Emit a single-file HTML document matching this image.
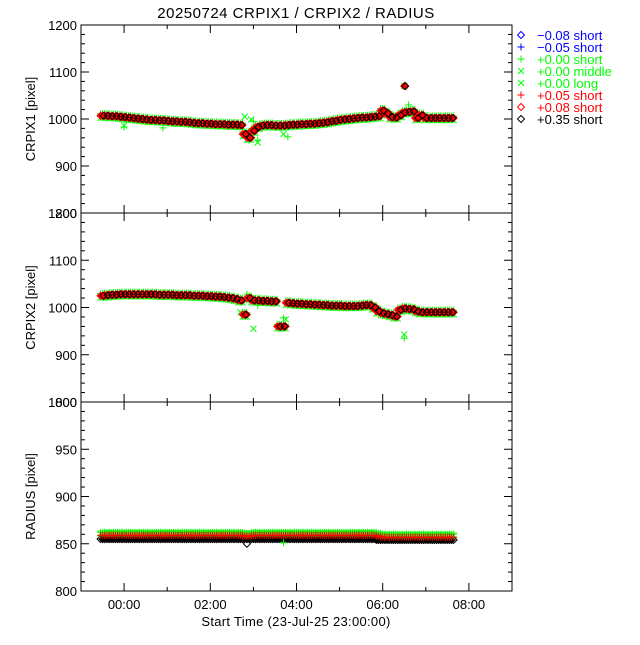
<!DOCTYPE html>
<html><head><meta charset="utf-8"><style>
html,body{margin:0;padding:0;background:#fff;}
text{font-family:"Liberation Sans",sans-serif;}
</style></head><body>
<svg id="chart" width="640" height="640" xmlns="http://www.w3.org/2000/svg">
<rect width="640" height="640" fill="#fff"/>
<text x="296" y="18" font-size="15" text-anchor="middle" letter-spacing="0.5">20250724 CRPIX1 / CRPIX2 / RADIUS</text>
<text x="296" y="626" font-size="13" text-anchor="middle" letter-spacing="0.3">Start Time (23-Jul-25 23:00:00)</text>
<g id="plots"></g>
<g id="legend"></g>
</svg>
<script>
const times=[-0.5,-0.4,-0.3,-0.2,-0.1,0.0,0.1,0.2,0.3,0.4,0.5,0.6,0.7,0.8,0.9,1.0,1.1,1.2,1.3,1.4,1.5,1.6,1.7,1.8,1.9,2.0,2.1,2.2,2.3,2.4,2.5,2.6,2.7,2.8,2.9,3.0,3.1,3.2,3.3,3.4,3.5,3.6,3.7,3.8,3.9,4.0,4.1,4.2,4.3,4.4,4.5,4.6,4.7,4.8,4.9,5.0,5.1,5.2,5.3,5.4,5.5,5.6,5.7,5.8,5.9,6.0,6.1,6.2,6.3,6.4,6.5,6.6,6.7,6.8,6.9,7.0,7.1,7.2,7.3,7.4,7.5,7.6];
const crpix1=[1007,1007,1006,1006,1005,1004,1003,1002,1001,1000,999,998,998,997,997,996,995,995,994,994,993,992,991,991,990,990,989,989,989,988,988,988,987,968,960,975,983,986,987,987,986,986,986,987,988,988,989,989,990,990,991,992,993,995,996,998,999,1000,1001,1002,1003,1003,1004,1005,1006,1018,1012,1004,1003,1008,1014,1015,1016,1002,1008,1002,1002,1002,1002,1002,1002,1002];
const crpix2=[1025,1026,1027,1027,1028,1028,1028,1028,1028,1028,1028,1028,1028,1027,1027,1027,1027,1026,1026,1026,1026,1025,1025,1025,1024,1024,1023,1023,1022,1021,1020,1018,1015,985,1020,1015,1015,1014,1014,1013,1013,960,960,1010,1009,1008,1008,1007,1007,1006,1006,1005,1005,1004,1004,1004,1003,1003,1003,1003,1004,1005,1005,1000,992,988,986,984,981,995,998,997,996,992,990,990,990,990,990,990,990,990];
const radiusBlack=[855,855,855,855,855,855,855,855,855,855,855,855,855,855,855,855,855,855,855,855,855,855,855,855,855,855,855,855,855,855,855,855,855,855,855,855,855,855,855,855,855,855,855,855,855,855,855,855,855,855,855,855,855,855,855,855,855,855,855,855,855,855,855,855,854,854,854,854,854,854,854,854,854,854,854,854,854,854,854,854,854,854];
const radiusRed=[859,859,859,859,859,859,859,859,859,859,859,859,859,859,859,859,859,859,859,859,859,859,859,859,859,859,859,859,859,859,859,859,859,858,858,859,859,859,859,859,859,859,859,859,859,859,859,859,859,859,859,859,859,859,859,859,859,859,859,859,859,859,859,859,858,857,857,857,857,857,857,857,857,857,857,857,857,857,857,857,857,857];
const radiusGreen=[862,862,862,862,862,862,862,862,862,862,862,862,862,862,862,862,862,862,862,862,862,862,862,862,862,862,862,862,862,862,862,862,862,861,861,862,862,862,862,862,862,862,862,862,862,862,862,862,862,862,862,862,862,862,862,862,862,862,862,862,862,862,862,862,861,860,860,860,860,860,860,860,860,860,860,860,860,860,860,860,860,860];
const c1OutT=[0.0,0.0,0.9,2.8,2.9,2.95,3.0,3.1,3.1,3.7,3.8,6.5,6.6,6.6];
const c1OutV=[983,986,981,1005,955,999,995,950,955,968,962,1070,1030,1020];
const c2OutT=[0.9,2.7,2.85,3.0,3.1,3.65,3.7,3.75,6.5,6.5];
const c2OutV=[1030,990,1028,955,1005,958,978,975,935,943];
const rOutT=[2.85,3.7];
const rOutV=[850,851];
const xTickLabels=["00:00","02:00","04:00","06:00","08:00"];
const xTickVals=[0,2,4,6,8];
const p1Ticks=[1200,1100,1000,900,800];
const p2Ticks=[1200,1100,1000,900,800];
const p3Ticks=[1000,950,900,850,800];
const legendLabels=["\u22120.08 short","\u22120.05 short","+0.00 short","+0.00 middle","+0.00 long","+0.05 short","+0.08 short","+0.35 short"];
const legendColors=["#0000ff","#0000ff","#00ff00","#00ff00","#00ff00","#ff0000","#ff0000","#000000"];
const legendSyms=["diamond","plus","plus","x","x","plus","diamond","diamond"];

const NS="http://www.w3.org/2000/svg";
const X0=81,X1=512,TMIN=-1,TMAX=9;
function xs(t){return X0+(t-TMIN)/(TMAX-TMIN)*(X1-X0);}
function mk(tag,attrs,parent){const e=document.createElementNS(NS,tag);for(const k in attrs)e.setAttribute(k,attrs[k]);parent.appendChild(e);return e;}
const plots=document.getElementById('plots');
function sym(g,type,x,y,col,fill){
  let e;
  if(type==='diamond'){e=mk('path',{d:`M${x} ${y-3.5}L${x+3.5} ${y}L${x} ${y+3.5}L${x-3.5} ${y}Z`,fill:fill||'none',stroke:col,'stroke-width':1},g);}
  else if(type==='plus'){e=mk('path',{d:`M${x-3.5} ${y}H${x+3.5}M${x} ${y-3.5}V${y+3.5}`,stroke:col,'stroke-width':1,fill:'none'},g);}
  else {e=mk('path',{d:`M${x-3} ${y-3}L${x+3} ${y+3}M${x-3} ${y+3}L${x+3} ${y-3}`,stroke:col,'stroke-width':1,fill:'none'},g);}
  return e;
}
function panel(name,top,bot,ymin,ymax,ticks,minorStep,title){
  const g=mk('g',{},plots);
  
  
  const ys=v=>bot-(v-ymin)/(ymax-ymin)*(bot-top);
  const ax=mk('g',{stroke:'#000','stroke-width':1},g);
  
  
  mk('rect',{x:X0,y:top,width:X1-X0,height:bot-top,fill:'none'},ax);
  for(let v=ymin;v<=ymax+0.001;v+=minorStep){
    const isMaj=ticks.indexOf(Math.round(v))>=0;const L=isMaj?8:4;const y=ys(v);
    mk('line',{x1:X0,x2:X0+L,y1:y,y2:y},ax);mk('line',{x1:X1,x2:X1-L,y1:y,y2:y},ax);
  }
  for(let h=0;h<=8;h++){const x=xs(h);const L=h%2===0?8:4;
    mk('line',{x1:x,x2:x,y1:bot,y2:bot-L},ax);mk('line',{x1:x,x2:x,y1:top,y2:top+L},ax);}
  ticks.forEach(v=>{const t=mk('text',{x:X0-4,y:ys(v)+5,'font-size':13,'text-anchor':'end'},g);t.textContent=v;
    });
  const yt=mk('text',{x:0,y:0,'font-size':13,'text-anchor':'middle',transform:`translate(35,${(top+bot)/2}) rotate(-90)`},g);
  yt.textContent=title;
  return {g,ys};
}
const OFF=[-2,0,2];
function dense(P,s,vals){
  times.forEach((t,i)=>OFF.forEach(o=>{sym(s,'x',xs(t)+o,P.ys(vals[i])+2,'#00ff00');sym(s,'plus',xs(t)+o,P.ys(vals[i])-2,'#00ff00');}));
  times.forEach((t,i)=>OFF.forEach(o=>{sym(s,'diamond',xs(t)+o,P.ys(vals[i]),'#ff0000','#ff0000');}));
  times.forEach((t,i)=>{sym(s,'diamond',xs(t)+1,P.ys(vals[i]),'#000');});
}
// Panel 1
let P=panel('crpix1',25,213,800,1200,p1Ticks,20,'CRPIX1  [pixel]');
let s=mk('g',{},P.g);
c1OutT.forEach((t,i)=>sym(s,i%2?'x':'plus',xs(t),P.ys(c1OutV[i]),'#00ff00'));
dense(P,s,crpix1);
sym(s,'diamond',xs(6.5),P.ys(1070),'#ff0000','#ff0000');sym(s,'diamond',xs(6.5)+1,P.ys(1070),'#000');
// Panel 2
P=panel('crpix2',213,402,800,1200,p2Ticks,20,'CRPIX2  [pixel]');
s=mk('g',{},P.g);
c2OutT.forEach((t,i)=>sym(s,i%2?'x':'plus',xs(t),P.ys(c2OutV[i]),'#00ff00'));
dense(P,s,crpix2);
// Panel 3
P=panel('radius',402,591,800,1000,p3Ticks,10,'RADIUS  [pixel]');
s=mk('g',{},P.g);
times.forEach((t,i)=>OFF.forEach(o=>{sym(s,'diamond',xs(t)+o,P.ys(radiusBlack[i]),'#000',o?'none':'#000');}));
times.forEach((t,i)=>OFF.forEach(o=>{sym(s,'plus',xs(t)+o,P.ys(radiusGreen[i]),'#00ff00');sym(s,'x',xs(t)+o,P.ys(radiusGreen[i])+1,'#00ff00');}));
times.forEach((t,i)=>OFF.forEach(o=>{sym(s,'plus',xs(t)+o,P.ys(radiusRed[i]),'#ff0000');}));
rOutT.forEach((t,i)=>sym(s,i?'plus':'diamond',xs(t),P.ys(rOutV[i]),i?'#00ff00':'#000'));
// x tick labels
xTickVals.forEach((v,i)=>{const t=mk('text',{x:xs(v),y:609,'font-size':13,'text-anchor':'middle'},plots);t.textContent=xTickLabels[i];
  });
// legend
const lg=document.getElementById('legend');
legendLabels.forEach((lab,i)=>{const y=35+i*12;const e=mk('g',{},lg);
  
  sym(e,legendSyms[i],521,y,legendColors[i]);
  const t=mk('text',{x:537,y:y+5,'font-size':13,fill:legendColors[i]},e);t.textContent=lab;});
</script>
</body></html>
